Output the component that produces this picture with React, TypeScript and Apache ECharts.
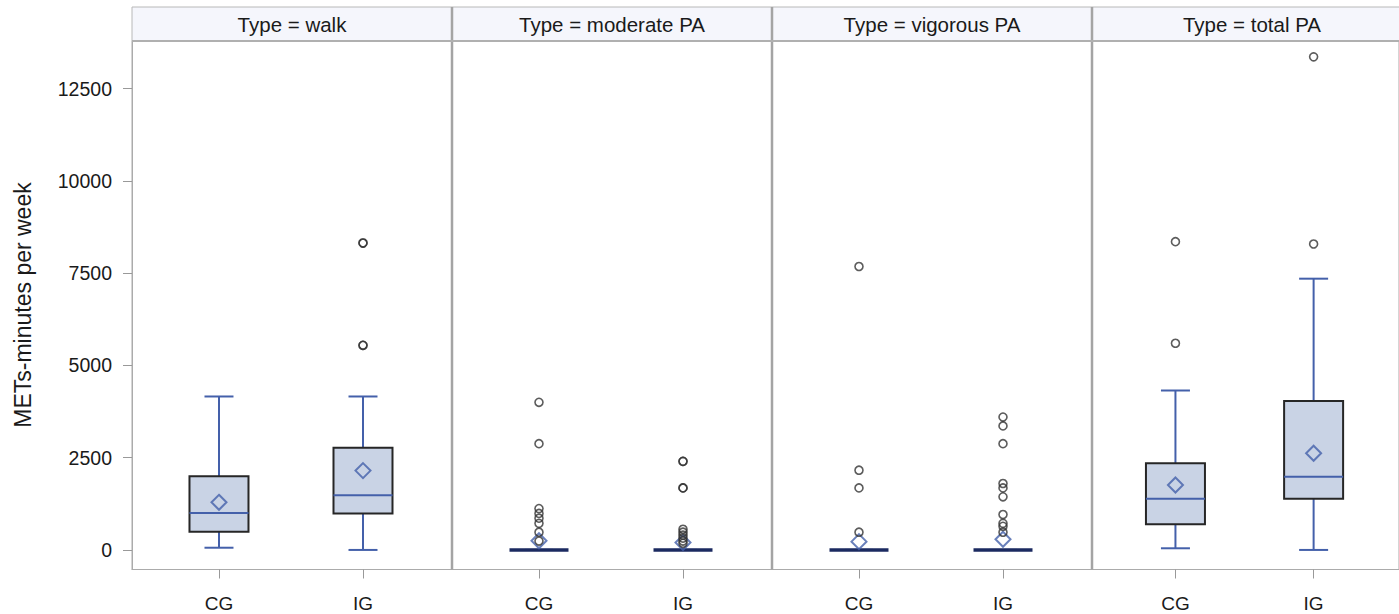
import React, { useEffect, useRef } from "react";
import * as echarts from "echarts";

const categories = ["CG", "IG"];
const types = ["walk", "moderate PA", "vigorous PA", "total PA"];
const yTicks = [0, 2500, 5000, 7500, 10000, 12500];

// [min, Q1, median, Q3, max] for CG and IG per type
const boxWalk = [
  [60, 490, 1000, 2000, 4158],
  [0, 990, 1485, 2772, 4158],
];
const boxModerate = [
  [0, 0, 0, 0, 0],
  [0, 0, 0, 0, 0],
];
const boxVigorous = [
  [0, 0, 0, 0, 0],
  [0, 0, 0, 0, 0],
];
const boxTotal = [
  [45, 693, 1386, 2346, 4320],
  [0, 1386, 1980, 4038, 7350],
];

const meanWalk = [1290, 2150];
const meanModerate = [250, 200];
const meanVigorous = [225, 290];
const meanTotal = [1760, 2620];

const outWalkCG: number[] = [];
const outWalkIG = [8316, 8316, 5544, 5544];
const outModerateCG = [4000, 2880, 1120, 990, 860, 720, 480, 240];
const outModerateIG = [2400, 2400, 1680, 1680, 560, 480, 400, 320, 240, 180];
const outVigorousCG = [7680, 2160, 1680, 480];
const outVigorousIG = [3600, 3360, 2880, 1800, 1680, 1440, 960, 720, 640, 480];
const outTotalCG = [8352, 5600];
const outTotalIG = [13360, 8290];

const boxes = [boxWalk, boxModerate, boxVigorous, boxTotal];
const means = [meanWalk, meanModerate, meanVigorous, meanTotal];
const outliers = [
  [outWalkCG, outWalkIG],
  [outModerateCG, outModerateIG],
  [outVigorousCG, outVigorousIG],
  [outTotalCG, outTotalIG],
];

const FONT = "'Liberation Sans', Arial, sans-serif";
const BOX_FILL = "#c9d3e5";
const BLUE = "#4460aa";
const DARK = "#262626";
const FRAME = "#ababab";

export default function App() {
  const ref = useRef<HTMLDivElement>(null);
  useEffect(() => {
    if (!ref.current) return;
    const chart = echarts.init(ref.current, undefined, { renderer: "svg" });
    const PL = 132;
    const PW = 320;
    const TOP = 41;
    const H = 528.5;

    const grids: any[] = [];
    const xAxes: any[] = [];
    const yAxes: any[] = [];
    const series: any[] = [];
    const graphics: any[] = [];

    types.forEach((t, i) => {
      grids.push({
        left: PL + PW * i,
        top: TOP,
        width: PW,
        height: H,
        show: true,
        borderColor: FRAME,
        borderWidth: 1,
        backgroundColor: "#fff",
        containLabel: false,
      });
      xAxes.push({
        type: "value",
        gridIndex: i,
        min: -0.604,
        max: 1.618,
        position: "bottom",
        splitLine: { show: false },
        axisLine: { show: true, onZero: false, lineStyle: { color: FRAME, width: 1 } },
        axisTick: {
          show: true,
          customValues: [0, 1],
          length: 9,
          lineStyle: { color: "#999", width: 1 },
        },
        axisLabel: {
          show: true,
          customValues: [0, 1],
          formatter: (v: number) => categories[Math.round(v)],
          fontSize: 19,
          fontFamily: FONT,
          color: "#1a1a1a",
          margin: 24,
        },
      });
      yAxes.push({
        type: "value",
        gridIndex: i,
        min: -530,
        max: 13790,
        position: "left",
        splitLine: { show: false },
        axisLine: { show: i === 0, onZero: false, lineStyle: { color: FRAME, width: 1 } },
        axisTick: {
          show: i === 0,
          customValues: yTicks,
          length: 9,
          lineStyle: { color: "#999", width: 1 },
        },
        axisLabel: {
          show: i === 0,
          customValues: yTicks,
          formatter: (v: number) => String(v),
          fontSize: 19.5,
          fontFamily: FONT,
          color: "#1a1a1a",
          margin: 20,
        },
      });

      series.push({
        type: "custom",
        xAxisIndex: i,
        yAxisIndex: i,
        z: 2,
        data: boxes[i].map((b, k) => [k, ...b]),
        renderItem: (params: any, api: any) => {
          const x = api.value(0);
          const mn = api.coord([x, api.value(1)]);
          const q1 = api.coord([x, api.value(2)]);
          const md = api.coord([x, api.value(3)]);
          const q3 = api.coord([x, api.value(4)]);
          const mx = api.coord([x, api.value(5)]);
          const cx = mn[0];
          const hw = 29.5;
          const cw = 14.5;
          const ls = { stroke: BLUE, lineWidth: 2 };
          const flat = Math.abs(q1[1] - q3[1]) < 0.5;
          const children: any[] = [
            { type: "line", shape: { x1: cx, y1: q3[1], x2: cx, y2: mx[1] }, style: ls },
            { type: "line", shape: { x1: cx, y1: q1[1], x2: cx, y2: mn[1] }, style: ls },
            { type: "line", shape: { x1: cx - cw, y1: mx[1], x2: cx + cw, y2: mx[1] }, style: ls },
            { type: "line", shape: { x1: cx - cw, y1: mn[1], x2: cx + cw, y2: mn[1] }, style: ls },
          ];
          if (flat) {
            children.push({
              type: "line",
              shape: { x1: cx - hw, y1: md[1], x2: cx + hw, y2: md[1] },
              style: { stroke: "#1b2a60", lineWidth: 3.5 },
            });
          } else {
            children.push(
              {
                type: "rect",
                shape: { x: cx - hw, y: q3[1], width: hw * 2, height: q1[1] - q3[1] },
                style: { fill: BOX_FILL, stroke: DARK, lineWidth: 2 },
              },
              {
                type: "line",
                shape: { x1: cx - hw, y1: md[1], x2: cx + hw, y2: md[1] },
                style: { stroke: BLUE, lineWidth: 2 },
              }
            );
          }
          return { type: "group", children };
        },
      });

      series.push({
        type: "scatter",
        xAxisIndex: i,
        yAxisIndex: i,
        z: 4,
        symbol: "circle",
        symbolSize: 8,
        itemStyle: { color: "rgba(255,255,255,0)", borderColor: "#333", borderWidth: 1.6 },
        data: outliers[i].flatMap((arr, k) => arr.map((v) => [k, v])),
      });

      series.push({
        type: "scatter",
        xAxisIndex: i,
        yAxisIndex: i,
        z: 3,
        symbol: "diamond",
        symbolSize: [15, 15],
        itemStyle: { color: "rgba(255,255,255,0)", borderColor: BLUE, borderWidth: 2 },
        data: means[i].map((v, k) => [k, v]),
      });

      graphics.push({
        type: "rect",
        shape: { x: PL + PW * i, y: 7, width: PW, height: TOP - 7 },
        style: { fill: "#f5f6fc", stroke: "#b8b8b8", lineWidth: 1 },
        z: 1,
      });
      graphics.push({
        type: "text",
        x: PL + PW * i + PW / 2,
        y: 24,
        style: {
          text: "Type = " + t,
          font: `20.5px ${FONT}`,
          fill: "#1a1a1a",
          textAlign: "center",
          textVerticalAlign: "middle",
        },
        z: 2,
      });
      if (i > 0) {
        graphics.push({
          type: "line",
          shape: { x1: PL + PW * i, y1: 7, x2: PL + PW * i, y2: TOP + H },
          style: { stroke: "#a4a4a4", lineWidth: 2.5 },
          z: 3,
        });
      }
    });

    graphics.push({
      type: "line",
      shape: { x1: PL, y1: TOP, x2: PL + PW * 4, y2: TOP },
      style: { stroke: "#b0b0b0", lineWidth: 2 },
      z: 3,
    });

    graphics.push({
      type: "text",
      x: 23,
      y: 305,
      rotation: Math.PI / 2,
      style: {
        text: "METs-minutes per week",
        font: `23px ${FONT}`,
        fill: "#1a1a1a",
        textAlign: "center",
        textVerticalAlign: "middle",
      },
    });

    chart.setOption({
      animation: false,
      backgroundColor: "#fff",
      grid: grids,
      xAxis: xAxes,
      yAxis: yAxes,
      series,
      graphic: graphics,
    });
    return () => chart.dispose();
  }, []);
  return (
    <div
      ref={ref}
      style={{ position: "fixed", left: 0, top: 0, width: 1399, height: 614 }}
    />
  );
}
